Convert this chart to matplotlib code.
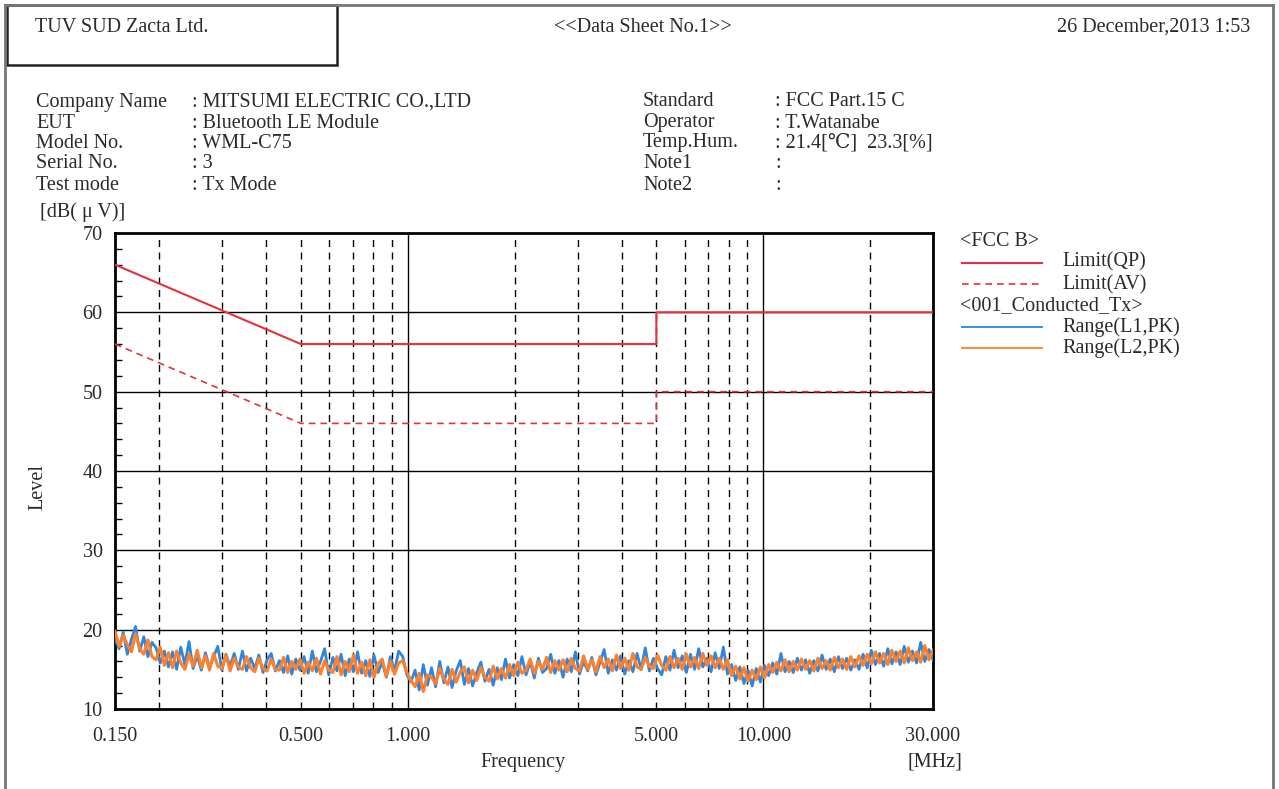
import numpy as np
import matplotlib.pyplot as plt
from matplotlib.lines import Line2D

# limit lines (MHz, dBuV)
qp_freq = [0.15, 0.5, 5.0, 5.0, 30.0]
qp_level = [66, 56, 56, 60, 60]
av_freq = [0.15, 0.5, 5.0, 5.0, 30.0]
av_level = [56, 46, 46, 50, 50]

l1_pk = [
    18.8, 17.6, 19.7, 16.9, 18.8, 20.4, 17.3, 19.1, 16.6, 18.4,
    17.7, 15.8, 17.3, 15.3, 17.2, 15.0, 17.8, 15.6, 18.5, 15.1,
    16.7, 14.9, 17.1, 15.2, 16.6, 17.9, 14.9, 16.9, 15.4, 17.0,
    15.0, 17.3, 14.8, 16.4, 15.1, 16.8, 14.6, 16.2, 17.0, 14.8,
    16.1, 14.6, 16.7, 14.4, 16.3, 14.9, 16.6, 14.5, 17.3, 14.7,
    16.0, 17.6, 14.3, 16.5, 14.8, 16.9, 14.2, 16.3, 14.7, 17.2,
    14.5, 16.1, 14.1, 16.8, 14.6, 15.9, 14.0, 16.6, 14.8, 17.3,
    16.6, 14.3, 13.4, 14.9, 12.4, 15.6, 13.0, 15.2, 12.8, 16.0,
    13.3, 15.3, 12.7, 14.8, 16.1, 13.1, 15.1, 12.9, 14.6, 15.9,
    13.5, 15.0, 13.0, 15.2, 13.7, 16.3, 13.9, 15.6, 14.2, 16.6,
    14.3, 16.0, 13.9, 16.4, 14.6, 15.1, 16.9, 14.5, 16.1, 14.0,
    16.3, 14.7, 17.2, 14.4, 16.0, 14.8, 16.5, 14.3, 15.9, 17.5,
    14.5, 16.2, 14.9, 16.7, 14.4, 16.1, 14.7, 17.0, 15.0, 17.7,
    14.8, 16.4, 15.1, 14.3, 16.6, 14.9, 17.4, 15.2, 16.7, 14.6,
    16.9, 15.0, 17.6, 15.3, 16.4, 14.7, 17.1, 15.1, 17.8, 14.4,
    15.6, 13.6, 15.3, 13.2, 14.9, 12.9, 15.1, 13.4, 15.5, 14.2,
    15.8, 14.4, 17.0, 14.7, 16.0, 14.6, 16.4, 14.9, 16.2, 14.5,
    16.1, 14.8, 16.8, 15.0, 16.3, 14.7, 16.6, 15.1, 16.4, 14.9,
    16.2, 15.0, 16.9, 15.2, 17.4, 15.6, 17.0, 15.4, 17.6, 15.7,
    17.2, 15.6, 17.9, 15.9, 17.3, 15.8, 18.4, 16.0, 17.5, 16.2,
]
l2_pk = [
    19.8, 17.9, 19.3, 18.1, 17.2, 19.5, 17.6, 16.9, 18.7, 16.6,
    16.2, 17.8, 15.5, 17.1, 15.2, 17.3, 15.8, 15.0, 16.9, 15.4,
    17.4, 15.2, 16.7, 14.9, 17.0, 15.4, 15.1, 16.8, 14.8, 16.4,
    15.3, 15.0, 16.6, 15.2, 14.7, 16.4, 15.1, 14.8, 16.3, 15.0,
    14.9, 16.5, 14.6, 16.0, 15.0, 16.3, 14.5, 15.9, 14.8, 16.4,
    14.4, 16.1, 14.9, 14.6, 16.6, 14.3, 16.0, 14.7, 16.8, 14.5,
    15.9, 14.2, 16.2, 14.0, 15.7, 16.3, 14.1, 16.0, 14.4, 15.8,
    16.1, 14.6, 13.6, 12.8, 14.5, 12.2, 14.3, 14.0, 13.2, 15.1,
    13.8, 13.1, 15.0, 13.4, 14.7, 15.3, 13.3, 14.9, 13.6, 15.2,
    14.0, 13.5, 15.4, 13.8, 15.1, 13.9, 15.6, 14.2, 15.9, 14.5,
    14.9, 16.3, 14.5, 16.0, 15.0, 16.5, 14.6, 16.1, 14.9, 16.2,
    14.7, 16.4, 15.1, 14.8, 16.7, 15.0, 16.2, 14.7, 16.6, 15.2,
    16.3, 14.8, 16.8, 15.1, 16.4, 14.9, 17.0, 15.3, 15.0, 16.5,
    15.4, 15.1, 16.8, 15.5, 14.9, 16.6, 15.2, 16.4, 15.0, 16.9,
    15.3, 16.5, 15.1, 17.0, 15.5, 16.7, 15.2, 16.4, 15.0, 16.2,
    14.2, 15.4, 13.8, 15.2, 13.5, 14.9, 13.7, 15.3, 13.9, 15.6,
    14.6, 15.9, 14.8, 16.2, 14.7, 16.0, 14.9, 16.3, 15.0, 16.1,
    14.8, 16.4, 15.1, 16.1, 14.9, 16.5, 15.2, 16.3, 15.0, 16.6,
    15.3, 16.7, 15.5, 16.9, 15.7, 17.2, 15.8, 17.0, 15.6, 17.4,
    16.0, 17.3, 15.8, 17.7, 16.1, 17.2, 15.9, 18.0, 16.2, 17.4,
]
sweep = np.geomspace(0.15, 30.0, len(l1_pk))

x_ticks = [0.15, 0.5, 1.0, 5.0, 10.0, 30.0]
x_labels = ['0.150', '0.500', '1.000', '5.000', '10.000', '30.000']
dash_grid = [0.2, 0.3, 0.4, 0.5, 0.6, 0.7, 0.8, 0.9, 2, 3, 4, 5, 6, 7, 8, 9, 20]

info_left = [('Company Name', ': MITSUMI ELECTRIC CO.,LTD'),
             ('EUT', ': Bluetooth LE Module'),
             ('Model No.', ': WML-C75'),
             ('Serial No.', ': 3'),
             ('Test mode', ': Tx Mode')]
info_right = [('Standard', ': FCC Part.15 C'),
              ('Operator', ': T.Watanabe'),
              ('Temp.Hum.', ': 21.4[℃]  23.3[%]'),
              ('Note1', ':'),
              ('Note2', ':')]

W, H = 1279, 789
plt.rcParams['font.family'] = ['Liberation Serif', 'DejaVu Serif']
txt = '#2a2a2a'
red = '#e3323f'
blue = '#2e86de'
orange = '#ff7f2a'
fs = 14.5

fig = plt.figure(figsize=(W / 100, H / 100), dpi=100)

def fx(px):
    return px / W

def fy(py):
    return 1 - py / H

# page frame and company box
frame = '#777777'
fig.add_artist(Line2D([fx(5), fx(5)], [fy(5), fy(789)], color=frame, lw=2))
fig.add_artist(Line2D([fx(5), fx(1273)], [fy(5), fy(5)], color=frame, lw=2))
fig.add_artist(Line2D([fx(1273), fx(1273)], [fy(5), fy(789)], color=frame, lw=2))
box = plt.Rectangle((fx(7), fy(65)), fx(330), 60 / H, transform=fig.transFigure,
                    fill=False, ec='#222222', lw=1.8)
fig.add_artist(box)

fig.text(fx(35), fy(27), 'TUV SUD Zacta Ltd.', fontsize=fs, color=txt, va='center')
fig.text(fx(643), fy(27), '<<Data Sheet No.1>>', fontsize=fs, color=txt,
         va='center', ha='center')
fig.text(fx(1250), fy(27), '26 December,2013 1:53', fontsize=fs, color=txt,
         va='center', ha='right')

rows_y = [102, 123, 143, 164, 185]
for (lab, val), yy in zip(info_left, rows_y):
    fig.text(fx(36), fy(yy), lab, fontsize=fs, color=txt, va='center')
    fig.text(fx(192), fy(yy), val, fontsize=fs, color=txt, va='center')
for (lab, val), yy in zip(info_right, rows_y):
    fig.text(fx(643), fy(yy), lab, fontsize=fs, color=txt, va='center')
    fig.text(fx(775), fy(yy), val, fontsize=fs, color=txt, va='center')

fig.text(fx(40), fy(212), '[dB( μ V)]', fontsize=fs, color=txt, va='center')
fig.text(fx(38), fy(487), 'Level', fontsize=fs, color=txt, va='center',
         ha='center', rotation=90)

ax = fig.add_axes([fx(115), fy(709), fx(818), 476 / H])
ax.set_xscale('log')
ax.set_xlim(0.15, 30)
ax.set_ylim(10, 70)

for g in dash_grid:
    ax.axvline(g, color='black', lw=1, ls=(0, (5, 4)), zorder=1)
for g in [1, 10]:
    ax.axvline(g, color='black', lw=1, zorder=1)
for g in [20, 30, 40, 50, 60]:
    ax.axhline(g, color='black', lw=1, zorder=1)

ax.plot(sweep, l1_pk, color=blue, lw=2.0, zorder=3)
ax.plot(sweep, l2_pk, color=orange, lw=2.2, zorder=4)
ax.plot(qp_freq, qp_level, color=red, lw=1.5, zorder=5)
ax.plot(av_freq, av_level, color=red, lw=1.2, ls=(0, (4, 3)), zorder=5)

ax.set_xticks(x_ticks)
ax.set_xticklabels(x_labels)
ax.xaxis.set_minor_locator(plt.NullLocator())
ax.set_yticks(range(10, 71, 10))
ax.set_yticks(range(10, 71, 2), minor=True)
ax.tick_params(axis='x', length=0, pad=13, labelsize=fs, labelcolor=txt)
ax.tick_params(axis='y', which='major', direction='in', length=0, pad=9,
               labelsize=fs, labelcolor=txt)
ax.tick_params(axis='y', which='minor', direction='in', length=5, width=1)
for s in ax.spines.values():
    s.set_linewidth(2)

fig.text(fx(523), fy(762), 'Frequency', fontsize=fs, color=txt, va='center', ha='center')
fig.text(fx(962), fy(762), '[MHz]', fontsize=fs, color=txt, va='center', ha='right')

# legend drawn by hand
fig.text(fx(960), fy(242), '<FCC B>', fontsize=fs, color=txt, va='center')
fig.add_artist(Line2D([fx(962), fx(1042)], [fy(263), fy(263)], color=red, lw=1.5))
fig.text(fx(1062), fy(262), 'Limit(QP)', fontsize=fs, color=txt, va='center')
fig.add_artist(Line2D([fx(962), fx(1042)], [fy(284), fy(284)], color=red, lw=1.2,
                      ls=(0, (4, 3))))
fig.text(fx(1062), fy(285), 'Limit(AV)', fontsize=fs, color=txt, va='center')
fig.text(fx(960), fy(306), '<001_Conducted_Tx>', fontsize=fs, color=txt, va='center')
fig.add_artist(Line2D([fx(962), fx(1042)], [fy(327), fy(327)], color=blue, lw=1.3))
fig.text(fx(1062), fy(327), 'Range(L1,PK)', fontsize=fs, color=txt, va='center')
fig.add_artist(Line2D([fx(962), fx(1042)], [fy(348), fy(348)], color=orange, lw=1.3))
fig.text(fx(1062), fy(348), 'Range(L2,PK)', fontsize=fs, color=txt, va='center')

fig.savefig('out.png', dpi=100)
